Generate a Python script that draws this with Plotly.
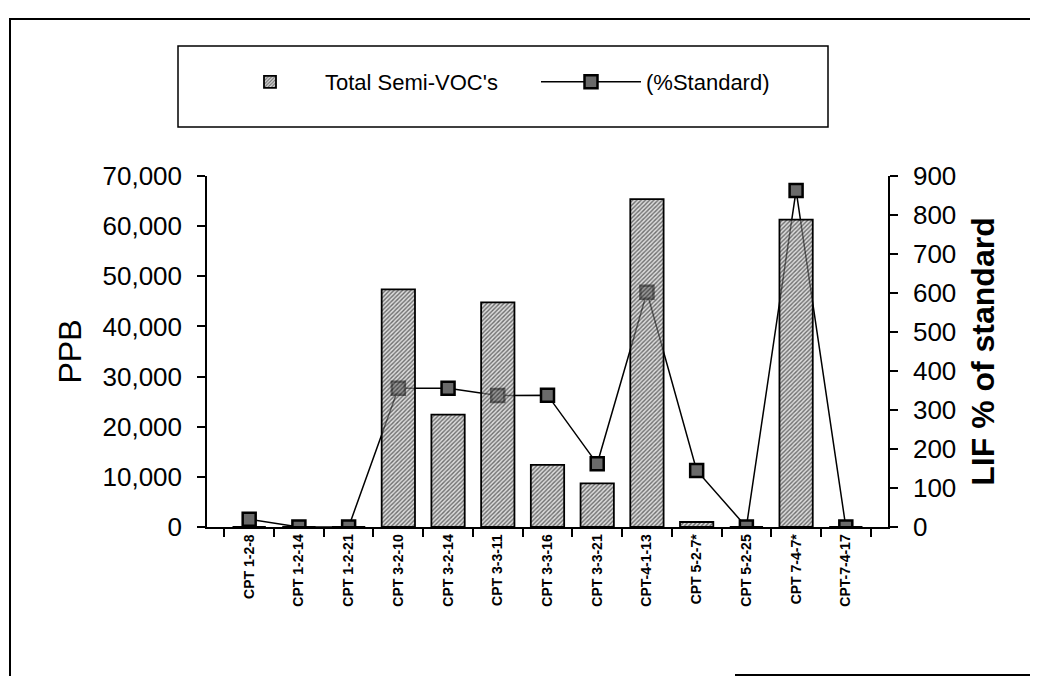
import plotly.graph_objects as go

# ---- data ----
categories = ["CPT 1-2-8", "CPT 1-2-14", "CPT 1-2-21", "CPT 3-2-10", "CPT 3-2-14",
              "CPT 3-3-11", "CPT 3-3-16", "CPT 3-3-21", "CPT-4-1-13", "CPT 5-2-7*",
              "CPT 5-2-25", "CPT 7-4-7*", "CPT-7-4-17"]
semi_voc_ppb = [0, 0, 0, 47400, 22400, 44800, 12400, 8700, 65400, 1000, 0, 61300, 0]
pct_standard = [20, 0, 0, 356, 356, 337, 338, 162, 602, 145, 0, 863, 0]

left_ticks = [0, 10000, 20000, 30000, 40000, 50000, 60000, 70000]
right_ticks = [0, 100, 200, 300, 400, 500, 600, 700, 800, 900]

FONT = "Liberation Sans, Arial, Helvetica, sans-serif"
W, H = 1038, 676
OFF = 8  # page body margin of the html wrapper


def px(x):
    """screen x (reference pixels) -> paper fraction"""
    return (x - OFF) / W


def py(y):
    """screen y (reference pixels) -> paper fraction"""
    return 1 - (y - OFF) / H


fig = go.Figure()

# bars on the left-side overlay axis (drawn above the line, like the reference)
fig.add_trace(go.Bar(
    x=categories, y=semi_voc_ppb, name="Total Semi-VOC's", yaxis="y2",
    marker=dict(color="rgba(190,190,190,0.55)",
                line=dict(color="black", width=1.8),
                pattern=dict(shape="/", fgcolor="black", bgcolor="rgba(190,190,190,0.55)",
                             size=3, solidity=0.45)),
))

fig.add_trace(go.Scatter(
    x=categories, y=pct_standard, name="(%Standard)", yaxis="y",
    mode="lines+markers",
    line=dict(color="black", width=1.5),
    marker=dict(symbol="square", size=13, color="#6a6a6a",
                line=dict(color="black", width=2.5)),
))

xd = [px(207), px(888)]
yd = [py(527), py(176)]

fig.update_layout(
    width=W, height=H,
    margin=dict(l=0, r=0, t=0, b=0),
    paper_bgcolor="white", plot_bgcolor="rgba(0,0,0,0)",
    font=dict(family=FONT, color="black"),
    bargap=0.33,
    showlegend=True,
    legend=dict(orientation="h", x=px(215), xanchor="left", y=py(82), yanchor="middle",
                font=dict(size=22, family=FONT), bgcolor="rgba(0,0,0,0)",
                traceorder="normal", itemwidth=100, entrywidthmode="pixels", entrywidth=206),
    xaxis=dict(domain=xd, showline=True, linecolor="black", linewidth=1.5,
               ticks="outside", ticklen=8, tickwidth=1.5, tickcolor="black",
               tickson="boundaries", tickangle=-90, showgrid=False, automargin=False,
               tickfont=dict(size=14, family=FONT, weight="bold"), anchor="y"),
    yaxis=dict(domain=yd, side="right", range=[0, 900], tickvals=right_ticks,
               showline=True, linecolor="black", linewidth=1.5, showgrid=False,
               zeroline=False, ticks="outside", ticklen=8, tickwidth=1.5, tickcolor="black",
               ticklabelstandoff=10, automargin=False, anchor="x",
               tickfont=dict(size=26, family=FONT),
               title=dict(text="LIF % of standard", standoff=16,
                          font=dict(size=32, family=FONT, weight="bold"))),
    yaxis2=dict(overlaying="y", side="left", range=[0, 70000], tickvals=left_ticks,
                tickformat=",d", showline=True, linecolor="black", linewidth=1.5,
                showgrid=False, zeroline=False, ticks="outside", ticklen=8, tickwidth=1.5,
                tickcolor="black", ticklabelstandoff=10, automargin=False, anchor="x",
                tickfont=dict(size=26, family=FONT),
                title=dict(text="PPB", standoff=11, font=dict(size=32, family=FONT))),
)

shapes = [
    # outer page frame (partial, as scanned)
    dict(type="line", xref="paper", yref="paper", x0=px(9), x1=1, y0=py(19), y1=py(19),
         line=dict(color="black", width=2)),
    dict(type="line", xref="paper", yref="paper", x0=px(10), x1=px(10), y0=py(19), y1=py(684),
         line=dict(color="black", width=2)),
    dict(type="line", xref="paper", yref="paper", x0=px(735), x1=1, y0=py(675), y1=py(675),
         line=dict(color="black", width=2)),
    # legend box
    dict(type="rect", xref="paper", yref="paper", x0=px(178), x1=px(828), y0=py(127), y1=py(46),
         line=dict(color="black", width=1.5), fillcolor="rgba(0,0,0,0)"),
]
fig.update_layout(shapes=shapes)

fig.write_html("out.html")
